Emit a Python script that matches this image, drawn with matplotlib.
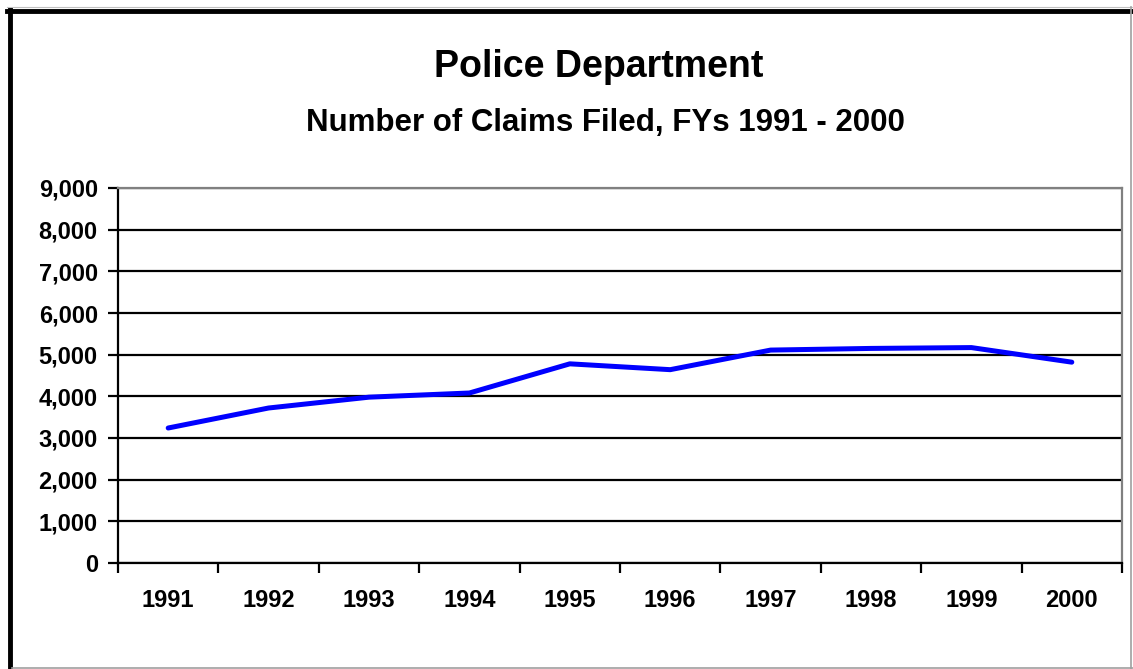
import matplotlib
matplotlib.use("Agg")
import matplotlib.pyplot as plt
from matplotlib.lines import Line2D
from matplotlib.ticker import FuncFormatter, FixedLocator

years = ["1991", "1992", "1993", "1994", "1995", "1996", "1997", "1998", "1999", "2000"]
claims = [3240, 3720, 3980, 4080, 4780, 4640, 5110, 5150, 5170, 4820]
y_ticks = [0, 1000, 2000, 3000, 4000, 5000, 6000, 7000, 8000, 9000]
title = "Police Department"
subtitle = "Number of Claims Filed, FYs 1991 - 2000"

plt.rcParams['font.family'] = ['Liberation Sans', 'DejaVu Sans']

W, H = 1133, 669
fig = plt.figure(figsize=(W / 100, H / 100), dpi=100)
fig.patch.set_facecolor('white')

ax = fig.add_axes([118 / W, 1 - 563 / H, (1122 - 118) / W, (563 - 188) / H])
x = list(range(1, len(years) + 1))
ax.plot(x, claims, color='#0000FF', lw=3.6, solid_capstyle='round', solid_joinstyle='round', zorder=5)

ax.set_xlim(0.5, len(years) + 0.5)
ax.set_ylim(0, 9000)
ax.yaxis.set_major_locator(FixedLocator(y_ticks))
ax.yaxis.set_major_formatter(FuncFormatter(lambda v, p: f"{int(v):,}"))
ax.grid(axis='y', color='black', lw=1.6, zorder=1)
ax.set_axisbelow(True)

ax.xaxis.set_major_locator(FixedLocator([i + 0.5 for i in range(0, len(years) + 1)]))
ax.xaxis.set_major_formatter(FuncFormatter(lambda v, p: ""))
ax.set_xticks(x, minor=True)
ax.set_xticklabels(years, minor=True)
ax.tick_params(axis='x', which='major', direction='out', length=7, width=1.6, color='black')
ax.tick_params(axis='x', which='minor', length=0, pad=19, labelsize=17)
ax.tick_params(axis='y', which='major', direction='out', length=7, width=1.6, pad=7.5, labelsize=17)
for lab in ax.get_xticklabels(minor=True) + ax.get_yticklabels():
    lab.set_fontweight('bold')

for s in ['left', 'bottom']:
    ax.spines[s].set_color('black')
    ax.spines[s].set_linewidth(1.6)
for s in ['top', 'right']:
    ax.spines[s].set_color('#808080')
    ax.spines[s].set_linewidth(1.6)

fig.text(599 / W, 1 - 67 / H, title, ha='center', va='center', fontsize=27, fontweight='bold')
fig.text(605 / W, 1 - 123 / H, subtitle, ha='center', va='center', fontsize=22.5, fontweight='bold')

# figure border: thick black top/left, thin grey bottom/right
fig.add_artist(Line2D([7 / W, 1], [1 - 10.5 / H, 1 - 10.5 / H], color='black', lw=3.5, transform=fig.transFigure))
fig.add_artist(Line2D([9.5 / W, 9.5 / W], [0, 1 - 9 / H], color='black', lw=3.5, transform=fig.transFigure))
fig.add_artist(Line2D([7 / W, 1], [1 - 7 / H, 1 - 7 / H], color='#c0c0c0', lw=0.8, transform=fig.transFigure))
fig.add_artist(Line2D([12 / W, 1], [1 - 668 / H, 1 - 668 / H], color='#a0a0a0', lw=1.2, transform=fig.transFigure))
fig.add_artist(Line2D([1131 / W, 1131 / W], [0, 1 - 7 / H], color='#a0a0a0', lw=1.2, transform=fig.transFigure))

fig.savefig("out.png", dpi=100)
